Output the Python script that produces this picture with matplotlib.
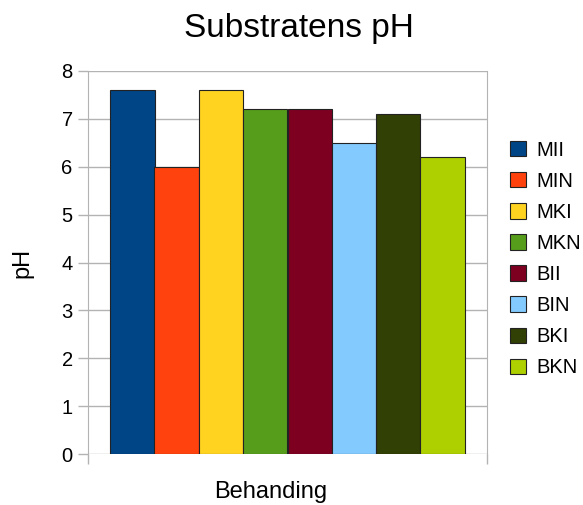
import matplotlib.pyplot as plt
from matplotlib.patches import Patch

plt.rcParams['font.family'] = ['Liberation Sans', 'DejaVu Sans']

labels = ['MII', 'MIN', 'MKI', 'MKN', 'BII', 'BIN', 'BKI', 'BKN']
ph = [7.6, 6.0, 7.6, 7.2, 7.2, 6.5, 7.1, 6.2]
colors = ['#004586', '#ff420e', '#ffd320', '#579d1c',
          '#7e0021', '#83caff', '#314004', '#aecf00']

grey = '#b3b3b3'

fig = plt.figure(figsize=(5.83, 5.05), dpi=100)
ax = fig.add_axes([88/583, 51/505, 399/583, 383/505])

for i, (lab, v, c) in enumerate(zip(labels, ph, colors)):
    ax.bar(i, v, width=1, color=c, edgecolor='#222222', linewidth=0.8, label=lab, zorder=3)

ax.set_xlim(-1, len(labels))
ax.set_ylim(0, 8)
ax.set_yticks(range(0, 9))
ax.set_xticks([-1, len(labels)])
ax.set_xticklabels([])
ax.yaxis.grid(True, color=grey, linewidth=1)
ax.tick_params(axis='both', color=grey, length=7, width=1, labelsize=14.5, pad=4)
for s in ['top', 'bottom']:
    ax.spines[s].set_visible(False)
for s in ['left', 'right']:
    ax.spines[s].set_color(grey)

ax.set_ylabel('pH', fontsize=17, labelpad=20)
fig.text(270.5/583, 1 - 492/505, 'Behanding', fontsize=17, ha='center', va='center')
fig.suptitle('Substratens pH', fontsize=24, x=0.513, y=0.975)

handles = [Patch(facecolor=c, edgecolor='#222222', linewidth=0.8) for c in colors]
fig.legend(handles, labels, loc='center left', bbox_to_anchor=(500/583, 1 - 259/505),
           frameon=False, fontsize=14.5, handlelength=0.8, handleheight=0.8,
           handletextpad=0.5, labelspacing=0.6, borderpad=0)

fig.savefig('out.png', dpi=100)
